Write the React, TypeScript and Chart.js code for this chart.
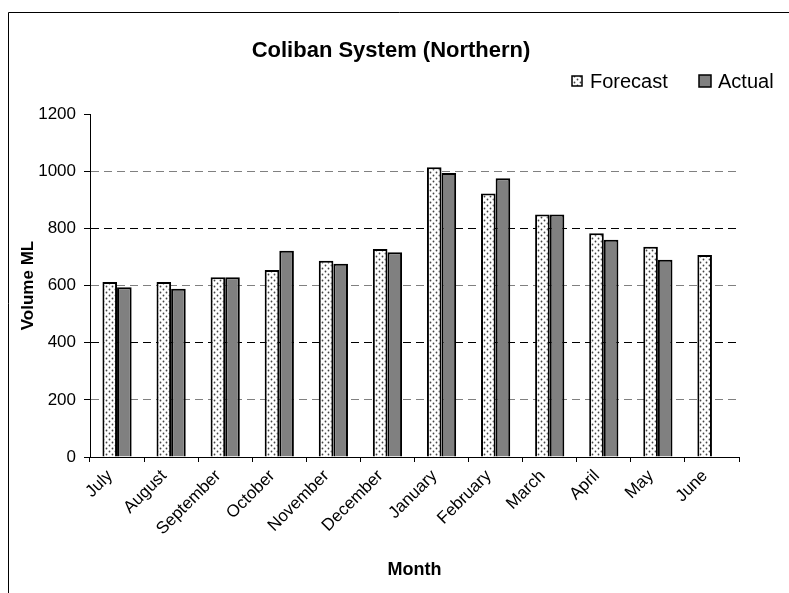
import React, { useEffect, useRef } from "react";
import { Chart, registerables } from "chart.js";

Chart.register(...registerables);

const months = ["July", "August", "September", "October", "November", "December", "January", "February", "March", "April", "May", "June"];
const forecast = [612, 612, 629, 654, 687, 728, 1014, 922, 848, 783, 736, 707];
const actual: (number | null)[] = [594, 589, 629, 722, 676, 716, 994, 975, 848, 760, 690, null];
const yTicks = [0, 200, 400, 600, 800, 1000, 1200];

const FONT = "'Liberation Sans', Arial, sans-serif";

function makePattern(): CanvasPattern | string {
  const c = document.createElement("canvas");
  c.width = 6;
  c.height = 6;
  const g = c.getContext("2d");
  if (!g) return "#fff";
  g.fillStyle = "#ffffff";
  g.fillRect(0, 0, 6, 6);
  g.fillStyle = "#444";
  g.beginPath();
  g.arc(1.5, 1.5, 0.9, 0, Math.PI * 2);
  g.arc(4.5, 4.5, 0.9, 0, Math.PI * 2);
  g.fill();
  const p = g.createPattern(c, "repeat");
  return p || "#fff";
}

export default function App() {
  const ref = useRef<HTMLCanvasElement>(null);
  useEffect(() => {
    if (!ref.current) return;
    const pattern = makePattern();
    const decor = {
      id: "decor",
      afterDraw(chart: any) {
        const ctx = chart.ctx as CanvasRenderingContext2D;
        ctx.save();
        // frame
        ctx.strokeStyle = "#000";
        ctx.lineWidth = 1;
        ctx.beginPath();
        ctx.moveTo(8.5, 600);
        ctx.lineTo(8.5, 12.5);
        ctx.lineTo(800, 12.5);
        ctx.stroke();
        // title
        ctx.fillStyle = "#000";
        ctx.font = `bold 22px ${FONT}`;
        ctx.textAlign = "center";
        ctx.textBaseline = "middle";
        ctx.fillText("Coliban System (Northern)", 391, 51);
        // legend
        ctx.font = `20px ${FONT}`;
        ctx.textAlign = "left";
        ctx.fillStyle = pattern as any;
        ctx.fillRect(572, 76, 10, 10);
        ctx.strokeStyle = "#000";
        ctx.lineWidth = 1.5;
        ctx.strokeRect(572, 76, 10, 10);
        ctx.fillStyle = "#000";
        ctx.fillText("Forecast", 590, 82);
        ctx.fillStyle = "#808080";
        ctx.fillRect(699, 75, 12, 12);
        ctx.strokeRect(699, 75, 12, 12);
        ctx.fillStyle = "#000";
        ctx.fillText("Actual", 718, 82);
        ctx.restore();
      },
    };
    const chart = new Chart(ref.current, {
      type: "bar",
      data: {
        labels: months,
        datasets: [
          {
            label: "Forecast",
            data: forecast,
            backgroundColor: pattern as any,
            borderColor: "#000",
            borderWidth: 2,
            categoryPercentage: 0.54,
            barPercentage: 1,
          },
          {
            label: "Actual",
            data: actual,
            backgroundColor: "#808080",
            borderColor: "#000",
            borderWidth: 2,
            categoryPercentage: 0.54,
            barPercentage: 1,
          },
        ],
      },
      options: {
        responsive: false,
        animation: false,
        layout: { padding: { left: 0, right: 50, top: 114, bottom: 0 } },
        plugins: {
          legend: { display: false },
          title: { display: false },
          tooltip: { enabled: false },
        },
        scales: {
          x: {
            afterFit: (s: any) => {
              s.height = 136;
            },
            grid: {
              offset: true,
              drawOnChartArea: false,
              color: "#000",
              tickLength: 5,
            },
            border: { color: "#000", width: 1 },
            ticks: {
              minRotation: 45,
              maxRotation: 45,
              autoSkip: false,
              color: "#000",
              font: { family: FONT, size: 17 },
              padding: 4,
              labelOffset: -7,
            },
            title: {
              display: true,
              text: "Month",
              color: "#000",
              font: { family: FONT, size: 18, weight: "bold" },
              padding: { top: 12, bottom: 12 },
            },
          },
          y: {
            min: 0,
            max: 1200,
            afterFit: (s: any) => {
              s.width = 90;
            },
            afterBuildTicks: (s: any) => {
              s.ticks = yTicks.map((v) => ({ value: v }));
            },
            grid: {
              color: (c: any) => {
                const v = c.tick ? c.tick.value : 0;
                if (v === 0 || v === 1200) return "rgba(0,0,0,0)";
                return v === 400 || v === 800 ? "#000" : "#808080";
              },
              tickColor: "#000",
              tickLength: 6,
              lineWidth: 1,
            },
            border: { color: "#000", width: 1, dash: [8, 5] },
            ticks: {
              color: "#000",
              font: { family: FONT, size: 17 },
              padding: 8,
              callback: (v: any) => String(v),
            },
            title: {
              display: true,
              text: "Volume ML",
              color: "#000",
              font: { family: FONT, size: 17, weight: "bold" },
              padding: { top: 18, bottom: 0 },
            },
          },
        },
      },
      plugins: [decor],
    });
    return () => chart.destroy();
  }, []);
  return (
    <div style={{ position: "absolute", left: 0, top: 0, width: 789, height: 593, background: "#fff" }}>
      <canvas ref={ref} width={789} height={593} style={{ display: "block" }} />
    </div>
  );
}
